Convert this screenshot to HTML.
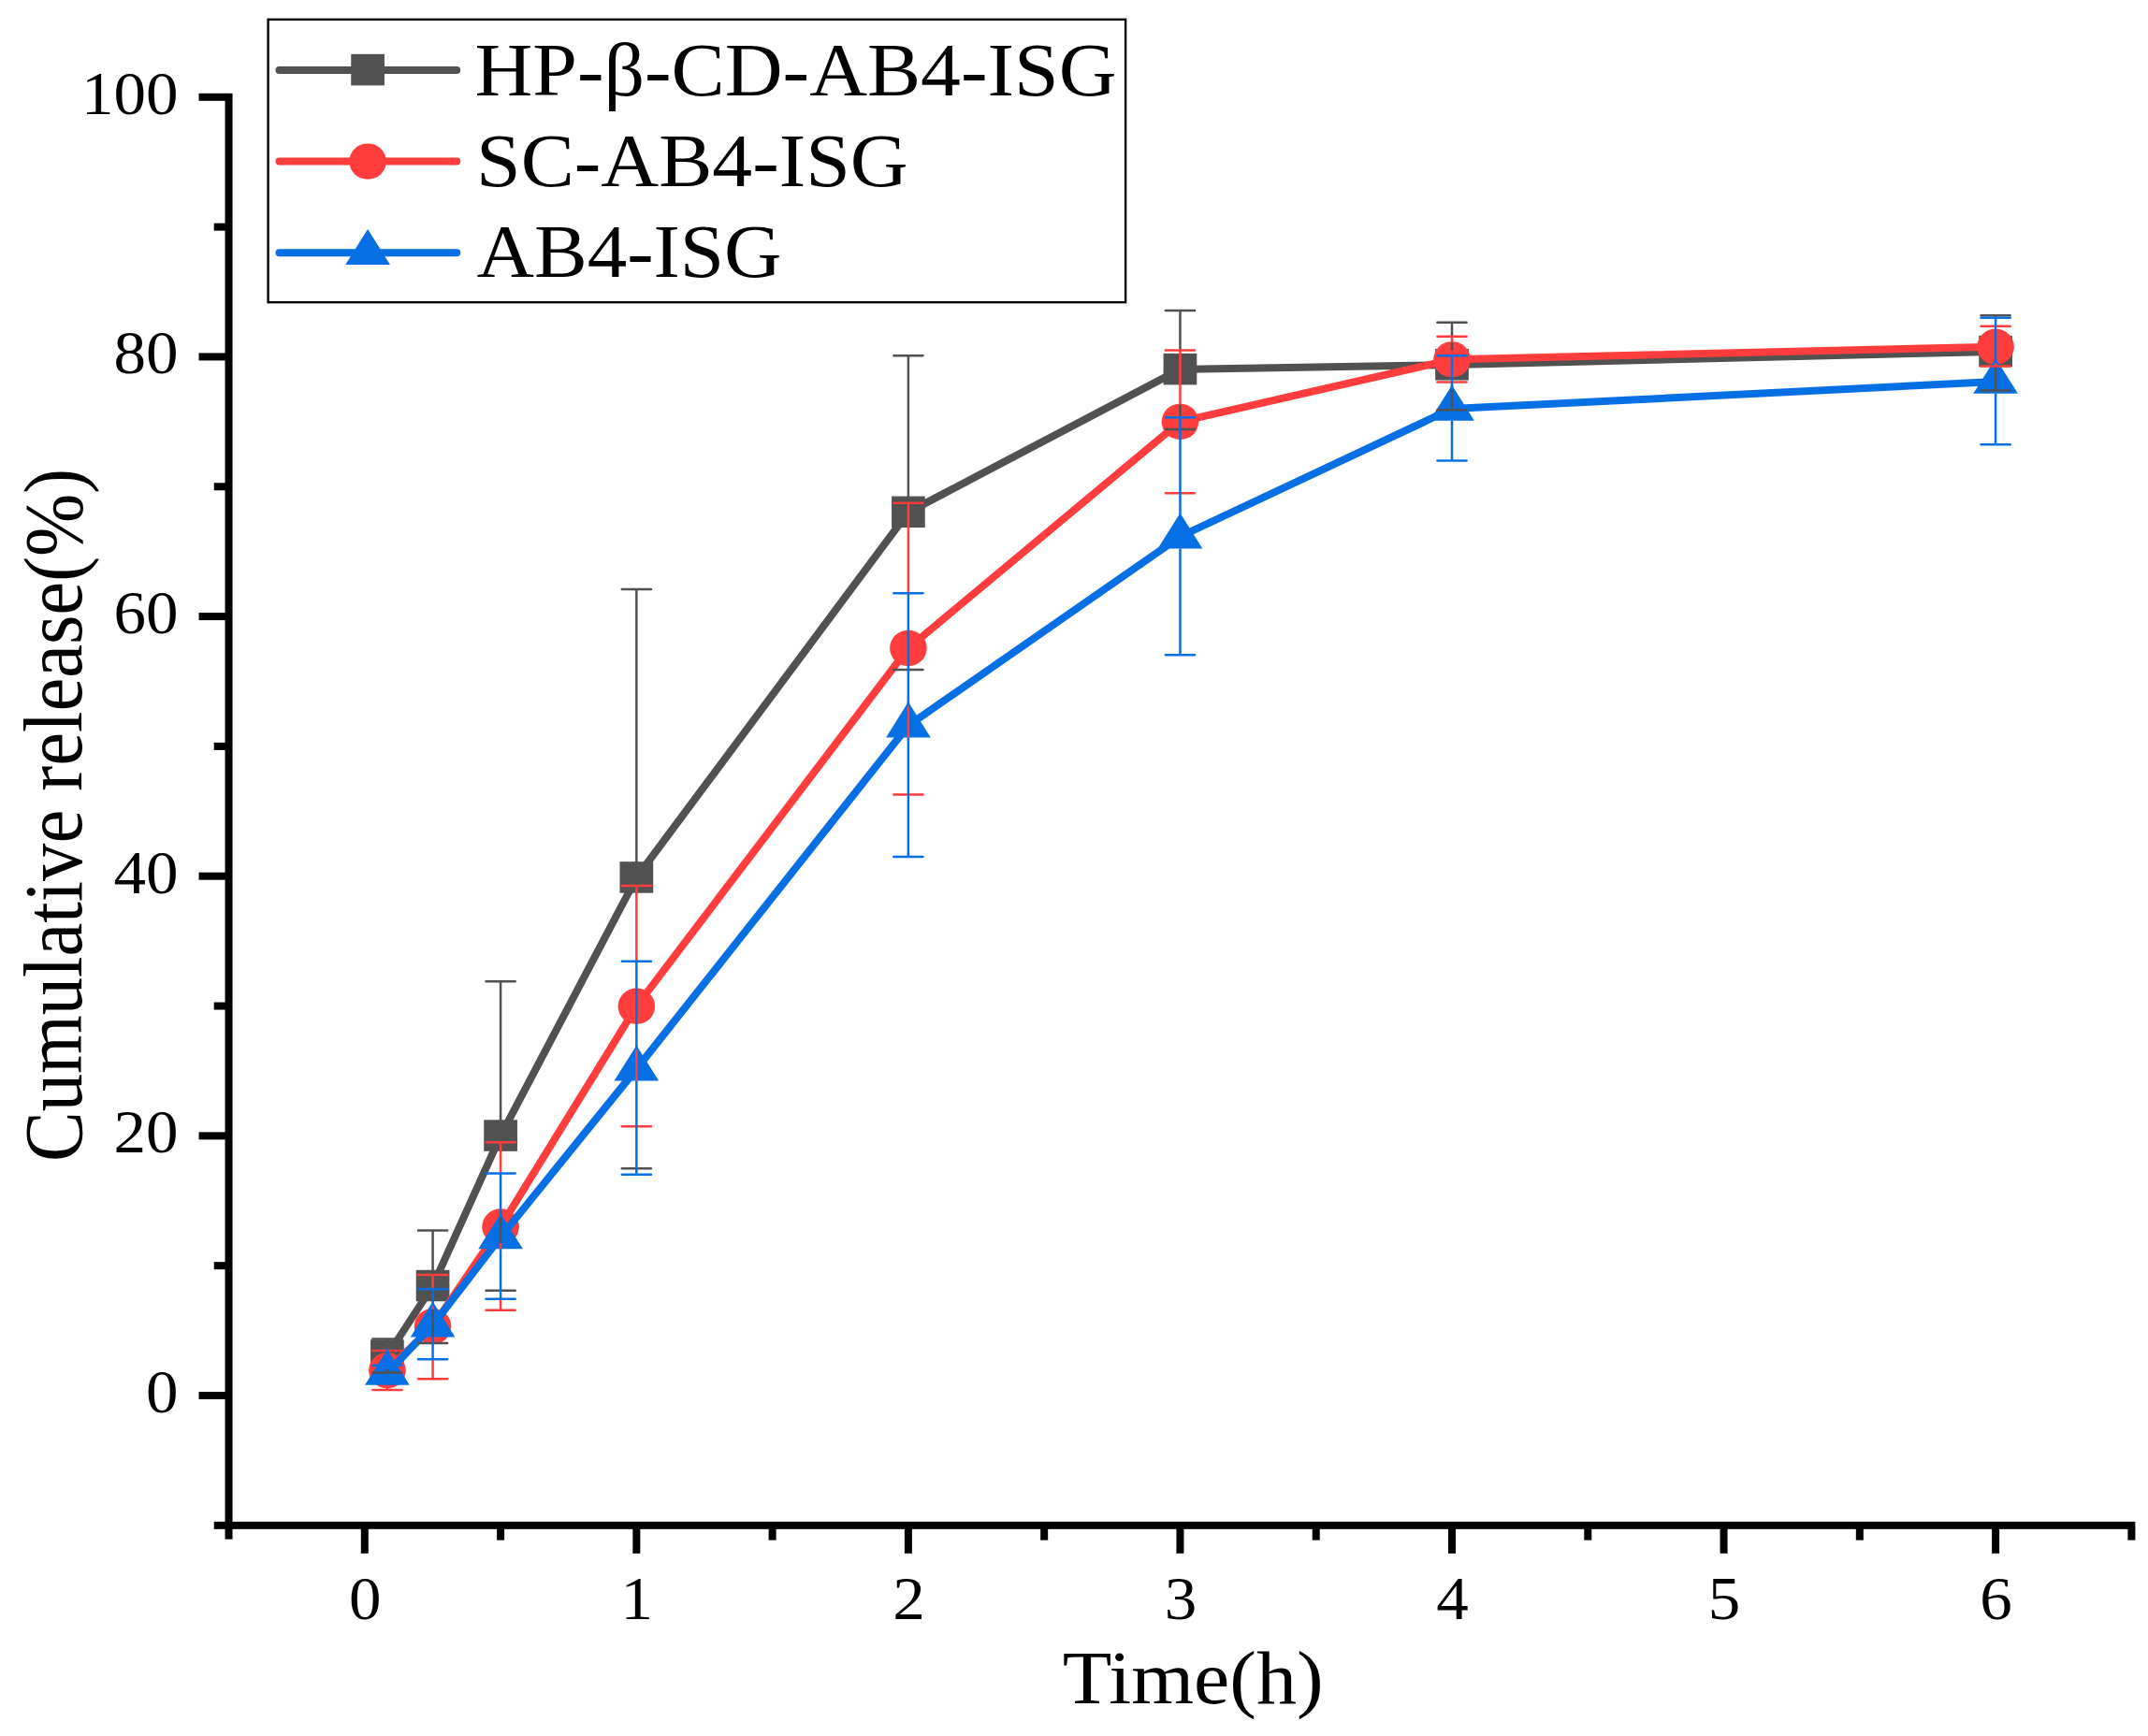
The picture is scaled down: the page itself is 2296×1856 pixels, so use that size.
<!DOCTYPE html>
<html lang="en">
<head>
<meta charset="utf-8">
<title>Cumulative release</title>
<style>
html,body{margin:0;padding:0;background:#fff;}
body{width:2296px;height:1856px;overflow:hidden;}
svg{display:block;}
</style>
</head>
<body>
<svg width="2296" height="1856" viewBox="0 0 2296 1856" font-family="'Liberation Serif', serif" fill="#000">
<rect width="2296" height="1856" fill="#fff"/>
<g fill="#000">
<rect x="240.53" y="99.8" width="8" height="1545.82"/>
<rect x="228.72" y="1626.82" width="2053.65" height="8"/>
<rect x="212.53" y="1488" width="29" height="8"/>
<rect x="228.72" y="1349.18" width="12.8" height="8"/>
<rect x="212.53" y="1210.36" width="29" height="8"/>
<rect x="228.72" y="1071.54" width="12.8" height="8"/>
<rect x="212.53" y="932.72" width="29" height="8"/>
<rect x="228.72" y="793.9" width="12.8" height="8"/>
<rect x="212.53" y="655.08" width="29" height="8"/>
<rect x="228.72" y="516.26" width="12.8" height="8"/>
<rect x="212.53" y="377.44" width="29" height="8"/>
<rect x="228.72" y="238.62" width="12.8" height="8"/>
<rect x="212.53" y="99.8" width="29" height="8"/>
<rect x="385.8" y="1633.82" width="8" height="27"/>
<rect x="531.08" y="1633.82" width="8" height="12.8"/>
<rect x="676.35" y="1633.82" width="8" height="27"/>
<rect x="821.62" y="1633.82" width="8" height="12.8"/>
<rect x="966.9" y="1633.82" width="8" height="27"/>
<rect x="1112.17" y="1633.82" width="8" height="12.8"/>
<rect x="1257.45" y="1633.82" width="8" height="27"/>
<rect x="1402.73" y="1633.82" width="8" height="12.8"/>
<rect x="1548" y="1633.82" width="8" height="27"/>
<rect x="1693.28" y="1633.82" width="8" height="12.8"/>
<rect x="1838.55" y="1633.82" width="8" height="27"/>
<rect x="1983.83" y="1633.82" width="8" height="12.8"/>
<rect x="2129.1" y="1633.82" width="8" height="27"/>
<rect x="2274.38" y="1633.82" width="8" height="12.8"/>
</g>
<text x="190.5" y="1510" font-size="66" text-anchor="end" textLength="34.5" lengthAdjust="spacingAndGlyphs">0</text>
<text x="190.5" y="1232.36" font-size="66" text-anchor="end" textLength="69" lengthAdjust="spacingAndGlyphs">20</text>
<text x="190.5" y="954.72" font-size="66" text-anchor="end" textLength="69" lengthAdjust="spacingAndGlyphs">40</text>
<text x="190.5" y="677.08" font-size="66" text-anchor="end" textLength="69" lengthAdjust="spacingAndGlyphs">60</text>
<text x="190.5" y="399.44" font-size="66" text-anchor="end" textLength="69" lengthAdjust="spacingAndGlyphs">80</text>
<text x="190.5" y="121.8" font-size="66" text-anchor="end" textLength="103.5" lengthAdjust="spacingAndGlyphs">100</text>
<text x="390.3" y="1730.8" font-size="66" text-anchor="middle" textLength="34.5" lengthAdjust="spacingAndGlyphs">0</text>
<text x="680.85" y="1730.8" font-size="66" text-anchor="middle" textLength="34.5" lengthAdjust="spacingAndGlyphs">1</text>
<text x="971.4" y="1730.8" font-size="66" text-anchor="middle" textLength="34.5" lengthAdjust="spacingAndGlyphs">2</text>
<text x="1261.95" y="1730.8" font-size="66" text-anchor="middle" textLength="34.5" lengthAdjust="spacingAndGlyphs">3</text>
<text x="1552.5" y="1730.8" font-size="66" text-anchor="middle" textLength="34.5" lengthAdjust="spacingAndGlyphs">4</text>
<text x="1843.05" y="1730.8" font-size="66" text-anchor="middle" textLength="34.5" lengthAdjust="spacingAndGlyphs">5</text>
<text x="2133.6" y="1730.8" font-size="66" text-anchor="middle" textLength="34.5" lengthAdjust="spacingAndGlyphs">6</text>
<text x="1275.2" y="1821.2" font-size="81" text-anchor="middle" textLength="279" lengthAdjust="spacingAndGlyphs">Time(h)</text>
<g transform="translate(86.5 871.5) rotate(-90)">
<text x="0" y="0" font-size="88" text-anchor="middle" textLength="741" lengthAdjust="spacingAndGlyphs">Cumulative release(%)</text>
</g>
<polyline points="413.92,1449.38 462.58,1374.84 535.08,1214.36 680.35,938.25 970.9,547.61 1261.45,394.91 1552,390.05 2133.1,375.89" fill="none" stroke="#515151" stroke-width="8.0" stroke-linejoin="round" stroke-linecap="round"/>
<rect x="396.07" y="1432.33" width="35.7" height="33.5" fill="#515151"/>
<rect x="444.73" y="1357.79" width="35.7" height="33.5" fill="#515151"/>
<rect x="517.23" y="1197.31" width="35.7" height="33.5" fill="#515151"/>
<rect x="662.5" y="921.2" width="35.7" height="33.5" fill="#515151"/>
<rect x="953.05" y="530.56" width="35.7" height="33.5" fill="#515151"/>
<rect x="1243.6" y="377.86" width="35.7" height="33.5" fill="#515151"/>
<rect x="1534.15" y="373" width="35.7" height="33.5" fill="#515151"/>
<rect x="2115.25" y="358.84" width="35.7" height="33.5" fill="#515151"/>
<polyline points="413.92,1465.21 462.58,1418.15 535.08,1311.53 680.35,1075.82 970.9,692.95 1261.45,450.85 1552,384.36 2133.1,370.75" fill="none" stroke="#ff3d3d" stroke-width="8.0" stroke-linejoin="round" stroke-linecap="round"/>
<ellipse cx="413.92" cy="1465.21" rx="19.8" ry="19.2" fill="#ff3d3d"/>
<ellipse cx="462.58" cy="1418.15" rx="19.8" ry="19.2" fill="#ff3d3d"/>
<ellipse cx="535.08" cy="1311.53" rx="19.8" ry="19.2" fill="#ff3d3d"/>
<ellipse cx="680.35" cy="1075.82" rx="19.8" ry="19.2" fill="#ff3d3d"/>
<ellipse cx="970.9" cy="692.95" rx="19.8" ry="19.2" fill="#ff3d3d"/>
<ellipse cx="1261.45" cy="450.85" rx="19.8" ry="19.2" fill="#ff3d3d"/>
<ellipse cx="1552" cy="384.36" rx="19.8" ry="19.2" fill="#ff3d3d"/>
<ellipse cx="2133.1" cy="370.75" rx="19.8" ry="19.2" fill="#ff3d3d"/>
<polyline points="413.92,1467.98 462.58,1416.76 535.08,1322.64 680.35,1142.87 970.9,775.69 1261.45,573.71 1552,436.97 2133.1,408.09" fill="none" stroke="#066fe4" stroke-width="8.0" stroke-linejoin="round" stroke-linecap="round"/>
<polygon points="413.92,1442.78 437.77,1480.68 390.07,1480.68" fill="#066fe4"/>
<polygon points="462.58,1391.56 486.43,1429.46 438.73,1429.46" fill="#066fe4"/>
<polygon points="535.08,1297.44 558.93,1335.34 511.23,1335.34" fill="#066fe4"/>
<polygon points="680.35,1117.67 704.2,1155.57 656.5,1155.57" fill="#066fe4"/>
<polygon points="970.9,750.49 994.75,788.39 947.05,788.39" fill="#066fe4"/>
<polygon points="1261.45,548.51 1285.3,586.41 1237.6,586.41" fill="#066fe4"/>
<polygon points="1552,411.77 1575.85,449.67 1528.15,449.67" fill="#066fe4"/>
<polygon points="2133.1,382.89 2156.95,420.79 2109.25,420.79" fill="#066fe4"/>
<g stroke="#515151" stroke-width="2.5" stroke-linecap="round" fill="none">
<path d="M413.92 1431.47V1434.08M413.92 1463.88V1467.57" stroke-linecap="butt"/>
<path d="M398.32 1431.47H429.52M398.32 1467.57H429.52"/>
<path d="M462.58 1315.42V1359.54M462.58 1399.85V1429.46" stroke-linecap="butt"/>
<path d="M446.98 1315.42H478.18M446.98 1435.92H478.18"/>
<path d="M535.08 1049.16V1199.06M535.08 1296.64V1329.03" stroke-linecap="butt"/>
<path d="M519.48 1049.16H550.68M519.48 1379.69H550.68"/>
<path d="M680.35 629.93V922.95" stroke-linecap="butt"/>
<path d="M664.75 629.93H695.95M664.75 1249.2H695.95"/>
<path d="M970.9 380.19V532.31" stroke-linecap="butt"/>
<path d="M955.3 380.19H986.5M955.3 716H986.5"/>
<path d="M1261.45 331.88V374.5M1261.45 432.55V446.13" stroke-linecap="butt"/>
<path d="M1245.85 331.88H1277.05M1245.85 459.04H1277.05"/>
<path d="M1552 344.65V359.65M1552 366.06V374.75M1552 410.97V438.22" stroke-linecap="butt"/>
<path d="M1536.4 344.65H1567.6M1536.4 438.22H1567.6"/>
<path d="M2133.1 337.16V339.79M2133.1 391.57V417.39" stroke-linecap="butt"/>
<path d="M2117.5 337.16H2148.7M2117.5 417.39H2148.7"/>
</g>
<g stroke="#ff3d3d" stroke-width="2.5" stroke-linecap="round" fill="none">
<path d="M413.92 1482.71V1486.03" stroke-linecap="butt"/>
<path d="M398.32 1444.11H429.52M398.32 1486.03H429.52"/>
<path d="M462.58 1362.9V1378.17M462.58 1390.76V1399.85M462.58 1453.13V1474.37" stroke-linecap="butt"/>
<path d="M446.98 1362.9H478.18M446.98 1474.37H478.18"/>
<path d="M535.08 1221.3V1254.62M535.08 1329.03V1335.34M535.08 1388.86V1400.8" stroke-linecap="butt"/>
<path d="M519.48 1221.3H550.68M519.48 1400.8H550.68"/>
<path d="M680.35 946.99V1027.65M680.35 1116.87V1155.57" stroke-linecap="butt"/>
<path d="M664.75 946.99H695.95M664.75 1204.23H695.95"/>
<path d="M970.9 537.75V634.23M970.9 749.69V788.39" stroke-linecap="butt"/>
<path d="M955.3 537.75H986.5M955.3 849.54H986.5"/>
<path d="M1261.45 374.5V432.55" stroke-linecap="butt"/>
<path d="M1245.85 374.5H1277.05M1245.85 527.2H1277.05"/>
<path d="M1552 359.65V366.06" stroke-linecap="butt"/>
<path d="M1536.4 359.65H1567.6M1536.4 408.51H1567.6"/>
<path d="M2133.1 388.25V391.57" stroke-linecap="butt"/>
<path d="M2117.5 348.82H2148.7M2117.5 391.57H2148.7"/>
</g>
<g stroke="#066fe4" stroke-width="2.5" stroke-linecap="round" fill="none">
<path d="M413.92 1441.98V1459.65M413.92 1476.31V1480.68" stroke-linecap="butt"/>
<path d="M398.32 1459.65H429.52M398.32 1476.31H429.52"/>
<path d="M462.58 1378.17V1390.76M462.58 1429.46V1453.13" stroke-linecap="butt"/>
<path d="M446.98 1378.17H478.18M446.98 1453.13H478.18"/>
<path d="M535.08 1254.62V1296.64M535.08 1335.34V1388.86" stroke-linecap="butt"/>
<path d="M519.48 1254.62H550.68M519.48 1388.86H550.68"/>
<path d="M680.35 1027.65V1116.87M680.35 1155.57V1255.87" stroke-linecap="butt"/>
<path d="M664.75 1027.65H695.95M664.75 1255.87H695.95"/>
<path d="M970.9 634.23V749.69M970.9 788.39V915.9" stroke-linecap="butt"/>
<path d="M955.3 634.23H986.5M955.3 915.9H986.5"/>
<path d="M1261.45 446.13V547.71M1261.45 586.41V700.17" stroke-linecap="butt"/>
<path d="M1245.85 446.13H1277.05M1245.85 700.17H1277.05"/>
<path d="M1552 380.19V410.97M1552 449.67V492.5" stroke-linecap="butt"/>
<path d="M1536.4 380.19H1567.6M1536.4 492.5H1567.6"/>
<path d="M2133.1 339.79V382.09M2133.1 420.79V475.28" stroke-linecap="butt"/>
<path d="M2117.5 339.79H2148.7M2117.5 475.28H2148.7"/>
</g>
<g stroke="#066fe4" stroke-width="2.5">
<line x1="462.58" x2="462.58" y1="1390.56" y2="1396.56"/>
<line x1="535.08" x2="535.08" y1="1296.44" y2="1302.44"/>
<line x1="680.35" x2="680.35" y1="1116.67" y2="1122.67"/>
<line x1="970.9" x2="970.9" y1="749.49" y2="755.49"/>
<line x1="1261.45" x2="1261.45" y1="547.51" y2="553.51"/>
<line x1="1552" x2="1552" y1="410.77" y2="416.77"/>
<line x1="2133.1" x2="2133.1" y1="381.89" y2="387.89"/>
</g>
<rect x="286.6" y="20.8" width="916.5" height="302.4" fill="#fff" stroke="#000" stroke-width="2.4"/>
<line x1="298.5" y1="74.9" x2="488.2" y2="74.9" stroke="#515151" stroke-width="8.0" stroke-linecap="round"/>
<rect x="375.25" y="57.85" width="35.7" height="33.5" fill="#515151"/>
<text x="507.5" y="102" font-size="81" text-anchor="start" textLength="686" lengthAdjust="spacingAndGlyphs">HP-β-CD-AB4-ISG</text>
<line x1="298.5" y1="172.6" x2="488.2" y2="172.6" stroke="#ff3d3d" stroke-width="8.0" stroke-linecap="round"/>
<ellipse cx="393.1" cy="172.6" rx="19.8" ry="19.2" fill="#ff3d3d"/>
<text x="509" y="199.4" font-size="81" text-anchor="start" textLength="461.7" lengthAdjust="spacingAndGlyphs">SC-AB4-ISG</text>
<line x1="298.5" y1="270.2" x2="488.2" y2="270.2" stroke="#066fe4" stroke-width="8.0" stroke-linecap="round"/>
<polygon points="393.1,245 416.95,282.9 369.25,282.9" fill="#066fe4"/>
<text x="509.5" y="296.2" font-size="81" text-anchor="start" textLength="326" lengthAdjust="spacingAndGlyphs">AB4-ISG</text>
</svg>
</body>
</html>
